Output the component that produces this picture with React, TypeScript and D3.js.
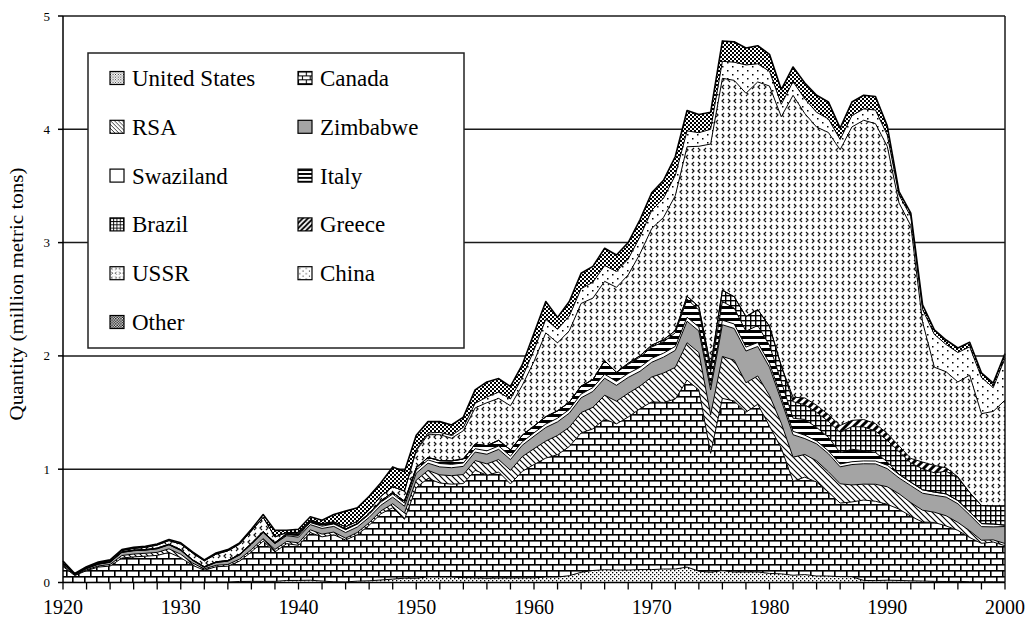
import React from 'react';
import * as d3 from 'd3';

const years: number[] = d3.range(1920, 2001);
const seriesNames = ['United States', 'Canada', 'RSA', 'Zimbabwe', 'Swaziland', 'Italy', 'Brazil', 'Greece', 'USSR', 'China', 'Other'];

const unitedStates = [
  .001, .001, 0, .001, 0, .001, .001, .002, .004, .003,
  .004, .002, .003, .004, .004, .009, .01, .01, .01, .018,
  .018, .02, .013, .006, .005, .012, .015, .022, .03, .038,
  .038, .049, .048, .048, .043, .041, .037, .04, .04, .041,
  .041, .048, .048, .06, .09, .106, .113, .11, .11, .114,
  .114, .119, .119, .136, .1, .09, .105, .092, .093, .093,
  .08, .076, .064, .07, .057, .057, .051, .051, .018, .017,
  .02, .018, .015, .013, .01, .009, .01, .007, .006, .007,
  .005];
const canada = [
  .14, .06, .105, .135, .145, .215, .225, .23, .235, .262,
  .215, .15, .105, .135, .14, .18, .26, .355, .26, .325,
  .31, .42, .39, .415, .37, .41, .49, .585, .63, .52,
  .8, .87, .83, .82, .83, .95, .91, .935, .83, .94,
  1.0, 1.05, 1.08, 1.14, 1.23, 1.25, 1.33, 1.29, 1.35, 1.42,
  1.48, 1.47, 1.5, 1.65, 1.6, 1.05, 1.52, 1.51, 1.41, 1.48,
  1.3, 1.11, .83, .86, .83, .74, .65, .66, .71, .7,
  .67, .63, .57, .52, .52, .49, .45, .39, .34, .35,
  .32];
const rsa = [
  .01, .005, .007, .01, .014, .022, .025, .026, .027, .032,
  .03, .02, .012, .013, .015, .018, .02, .022, .022, .02,
  .022, .025, .024, .024, .016, .02, .022, .025, .035, .055,
  .065, .07, .072, .075, .08, .085, .1, .11, .12, .13,
  .14, .15, .17, .17, .18, .19, .21, .2, .21, .2,
  .22, .26, .28, .33, .33, .34, .37, .36, .26, .25,
  .27, .22, .212, .2, .187, .18, .17, .15, .14, .15,
  .155, .135, .12, .105, .09, .09, .07, .06, .027, .019,
  .019];
const zimbabwe = [
  .015, .007, .012, .016, .02, .028, .03, .028, .032, .036,
  .035, .024, .015, .025, .03, .036, .048, .055, .052, .05,
  .05, .046, .05, .05, .05, .048, .048, .05, .058, .06,
  .062, .064, .07, .07, .072, .075, .085, .09, .095, .1,
  .11, .12, .12, .125, .13, .14, .15, .14, .14, .13,
  .13, .14, .15, .19, .19, .22, .28, .28, .28, .26,
  .25, .2, .198, .14, .15, .16, .15, .18, .18, .18,
  .16, .14, .15, .15, .15, .165, .165, .14, .12, .115,
  .15];
const swaziland = [
  0, 0, 0, 0, 0, 0, 0, 0, 0, 0,
  0, 0, 0, 0, 0, 0, 0, 0, 0, .008,
  .015, .018, .02, .022, .025, .025, .026, .027, .028, .028,
  .028, .029, .03, .03, .03, .03, .03, .03, .03, .03,
  .03, .03, .032, .032, .033, .034, .035, .035, .035, .035,
  .035, .035, .035, .035, .035, .04, .04, .04, .035, .035,
  .035, .03, .03, .03, .025, .025, .025, .025, .025, .025,
  .03, .03, .03, .03, .028, .028, .028, .027, .027, .025,
  .012];
const italy = [
  .003, .002, .003, .003, .003, .004, .004, .004, .005, .005,
  .005, .004, .004, .005, .005, .006, .007, .008, .008, .01,
  .012, .014, .012, .008, .006, .005, .01, .012, .014, .016,
  .02, .022, .025, .03, .035, .04, .045, .05, .055, .058,
  .06, .065, .065, .065, .07, .07, .12, .08, .08, .09,
  .1, .1, .12, .16, .15, .12, .165, .14, .14, .15,
  .157, .137, .116, .139, .12, .12, .1, .11, .09, .075,
  .03, .003, 0, 0, 0, 0, 0, 0, 0, 0,
  0];
const brazil = [
  0, 0, 0, 0, 0, 0, 0, 0, 0, 0,
  0, 0, 0, 0, 0, 0, 0, 0, 0, 0,
  0, 0, 0, 0, 0, 0, 0, 0, 0, 0,
  0, 0, 0, 0, 0, 0, 0, 0, 0, 0,
  0, 0, 0, 0, 0, 0, 0, 0, .01, .012,
  .016, .018, .02, .025, .03, .05, .1, .1, .13, .14,
  .17, .138, .146, .13, .134, .14, .18, .2, .21, .19,
  .19, .2, .17, .185, .17, .2, .2, .17, .16, .16,
  .17];
const greece = [
  0, 0, 0, 0, 0, 0, 0, 0, 0, 0,
  0, 0, 0, 0, 0, 0, 0, 0, 0, 0,
  0, 0, 0, 0, 0, 0, 0, 0, 0, 0,
  0, 0, 0, 0, 0, 0, 0, 0, 0, 0,
  0, 0, 0, 0, 0, 0, 0, 0, 0, 0,
  0, 0, 0, 0, 0, 0, 0, 0, 0, 0,
  0, 0, .039, .06, .061, .06, .06, .055, .065, .065,
  .06, .05, .04, .06, .065, .03, .01, 0, 0, 0,
  0];
const ussr = [
  .005, .002, .005, .007, .01, .012, .016, .02, .027, .032,
  .05, .06, .052, .068, .085, .09, .11, .125, .05, .01,
  .015, .01, .01, .01, .02, .02, .03, .04, .05, .09,
  .15, .2, .23, .2, .25, .32, .38, .37, .39, .44,
  .57, .74, .6, .63, .73, .72, .7, .75, .78, .9,
  1.03, 1.08, 1.19, 1.32, 1.415, 1.96, 1.87, 1.91, 1.97, 2.01,
  2.12, 2.2, 2.665, 2.51, 2.456, 2.49, 2.434, 2.59, 2.642, 2.648,
  2.535, 2.144, 2.055, 1.237, .867, .848, .837, 1.036, .81, .834,
  .934];
const china = [
  0, 0, 0, 0, 0, 0, 0, 0, 0, 0,
  0, 0, 0, 0, 0, 0, 0, 0, 0, 0,
  0, 0, 0, 0, 0, 0, 0, 0, 0, 0,
  .01, .015, .02, .025, .03, .04, .05, .055, .06, .07,
  .1, .12, .12, .13, .13, .14, .14, .14, .14, .15,
  .16, .17, .18, .14, .12, .13, .15, .16, .25, .16,
  .13, .11, .12, .13, .13, .12, .09, .1, .1, .12,
  .1, .07, .08, .11, .29, .24, .26, .25, .32, .21,
  .37];
const other = [
  .016, .003, .008, .008, .008, .008, .009, .01, .01, .01,
  .011, .01, .009, .01, .011, .011, .015, .025, .058, .02,
  .028, .027, .031, .065, .138, .12, .119, .119, .175, .173,
  .127, .101, .095, .092, .09, .119, .133, .12, .11, .111,
  .149, .157, .105, .128, .137, .14, .152, .145, .145, .15,
  .155, .158, .166, .18, .16, .15, .18, .18, .15, .16,
  .15, .13, .13, .14, .15, .15, .1, .12, .12, .12,
  .08, .03, .03, .04, .04, .04, .04, .04, .04, .04,
  .04];

const seriesValues = [unitedStates, canada, rsa, zimbabwe, swaziland, italy, brazil, greece, ussr, china, other];
const patternIds = ['pUS', 'pCA', 'pRSA', 'pZIM', 'pSWZ', 'pITA', 'pBRA', 'pGRE', 'pUSSR', 'pCHN', 'pOTH'];

const yTicks = [0, 1, 2, 3, 4, 5];
const xLabels = [1920, 1930, 1940, 1950, 1960, 1970, 1980, 1990, 2000];
const xTickYears = d3.range(1920, 2001, 2);

const FONT = "'Liberation Serif', 'Times New Roman', 'DejaVu Serif', serif";
const tStyle: React.CSSProperties = { fontFamily: FONT };

function Patterns() {
  return (
    <defs>
      <pattern id="pUS" width={4} height={4} patternUnits="userSpaceOnUse">
        <rect width={4} height={4} fill="#fff" />
        <rect x={0} y={0} width={1.3} height={1.3} fill="#000" />
        <rect x={2} y={2} width={1.3} height={1.3} fill="#000" />
      </pattern>
      <pattern id="pCA" width={12} height={12} patternUnits="userSpaceOnUse">
        <rect width={12} height={12} fill="#fff" />
        <rect x={0} y={0} width={12} height={1.6} fill="#000" />
        <rect x={0} y={6} width={12} height={1.6} fill="#000" />
        <rect x={0} y={0} width={1.6} height={6} fill="#000" />
        <rect x={6} y={6} width={1.6} height={6} fill="#000" />
      </pattern>
      <pattern id="pRSA" width={6} height={6} patternUnits="userSpaceOnUse">
        <rect width={6} height={6} fill="#fff" />
        <path d="M-1,-1 L7,7 M-1,5 L1,7 M5,-1 L7,1" stroke="#000" strokeWidth={1.2} />
      </pattern>
      <pattern id="pZIM" width={4} height={4} patternUnits="userSpaceOnUse">
        <rect width={4} height={4} fill="#a4a4a4" />
      </pattern>
      <pattern id="pSWZ" width={4} height={4} patternUnits="userSpaceOnUse">
        <rect width={4} height={4} fill="#fff" />
      </pattern>
      <pattern id="pITA" width={6} height={6} patternUnits="userSpaceOnUse">
        <rect width={6} height={6} fill="#fff" />
        <rect x={0} y={0} width={6} height={3} fill="#000" />
      </pattern>
      <pattern id="pBRA" width={5} height={5} patternUnits="userSpaceOnUse">
        <rect width={5} height={5} fill="#fff" />
        <rect x={0} y={0} width={5} height={1.4} fill="#000" />
        <rect x={0} y={0} width={1.4} height={5} fill="#000" />
      </pattern>
      <pattern id="pGRE" width={8} height={8} patternUnits="userSpaceOnUse">
        <rect width={8} height={8} fill="#fff" />
        <path d="M-2,10 L10,-2 M-2,2 L2,-2 M6,10 L10,6" stroke="#000" strokeWidth={3} />
      </pattern>
      <pattern id="pUSSR" width={12} height={14} patternUnits="userSpaceOnUse">
        <rect width={12} height={14} fill="#fff" />
        <path d="M4,1 L2,3 L4,5 M8,1 L10,3 L8,5 M2,8 L4,10 L2,12 M10,8 L8,10 L10,12" stroke="#111" strokeWidth={1.2} fill="none" />
      </pattern>
      <pattern id="pCHN" width={10} height={8} patternUnits="userSpaceOnUse">
        <rect width={10} height={8} fill="#fff" />
        <rect x={2} y={2} width={1.5} height={1.5} fill="#000" />
        <rect x={7} y={6} width={1.5} height={1.5} fill="#000" />
      </pattern>
      <pattern id="pOTH" width={4} height={4} patternUnits="userSpaceOnUse">
        <rect width={4} height={4} fill="#fff" />
        <rect x={0} y={0} width={2} height={2} fill="#000" />
        <rect x={2} y={2} width={2} height={2} fill="#000" />
      </pattern>
    </defs>
  );
}

export default function App() {
  const W = 1029, H = 627;
  const x = d3.scaleLinear().domain([1920, 2000]).range([63, 1005]);
  const y = d3.scaleLinear().domain([0, 5]).range([582.5, 16]);

  const table = years.map((yr, i) => {
    const row: any = { year: yr };
    seriesNames.forEach((name, j) => { row[name] = seriesValues[j][i]; });
    return row;
  });
  const stacked = d3.stack<any>().keys(seriesNames)(table);
  const area = d3.area<any>().x((d: any) => x(d.data.year)).y0((d: any) => y(d[0])).y1((d: any) => y(d[1]));
  const topLine = d3.line<any>().x((d: any) => x(d.data.year)).y((d: any) => y(d[1]));

  const legendCols = [110, 298];
  const legendRow0 = 78;
  const legendRowStep = 48.8;
  const sw = 0.65; // legend swatch pattern scale

  return (
    <svg width={W} height={H} style={{ position: 'absolute', left: 0, top: 0, background: '#fff', fontFamily: FONT }}>
      <Patterns />
      <rect width={W} height={H} fill="#fff" />
      {yTicks.filter(t => t > 0).map(t => (
        <line key={'g' + t} x1={x(1920)} x2={x(2000)} y1={y(t)} y2={y(t)} stroke="#1a1a1a" strokeWidth={1.5} />
      ))}
      {stacked.map((s, i) => (
        <path key={'a' + i} d={area(s as any) || ''} fill={`url(#${patternIds[i]})`} stroke="none" />
      ))}
      {stacked.map((s, i) => (
        <path key={'l' + i} d={topLine(s as any) || ''} fill="none" stroke="#000" strokeWidth={i === stacked.length - 1 ? 1.6 : 1} strokeLinejoin="round" />
      ))}
      <line x1={x(2000)} x2={x(2000)} y1={y(5)} y2={y(0)} stroke="#1a1a1a" strokeWidth={1.5} />
      <line x1={x(1920)} x2={x(1920)} y1={y(5)} y2={y(0)} stroke="#000" strokeWidth={1.5} />
      <line x1={x(1920)} x2={x(2000)} y1={y(0)} y2={y(0)} stroke="#000" strokeWidth={1.5} />
      {yTicks.map(t => (
        <g key={'yt' + t}>
          <line x1={x(1920) - 5} x2={x(1920)} y1={y(t)} y2={y(t)} stroke="#000" strokeWidth={1.5} />
          <text x={50} y={y(t) + 4.5} textAnchor="end" fontSize={13} fill="#000" style={tStyle}>{t}</text>
        </g>
      ))}
      {xTickYears.map(yr => (
        <line key={'xt' + yr} x1={x(yr)} x2={x(yr)} y1={y(0)} y2={y(0) + 7} stroke="#000" strokeWidth={1.3} />
      ))}
      {xLabels.map(yr => (
        <text key={'xl' + yr} x={x(yr)} y={614} textAnchor="middle" fontSize={20} fill="#000" style={tStyle}>{yr}</text>
      ))}
      <text transform="translate(23,294) rotate(-90)" textAnchor="middle" fontSize={19} textLength={253} lengthAdjust="spacingAndGlyphs" fill="#000" style={tStyle}>Quantity (million metric tons)</text>
      <rect x={88} y={53} width={376} height={295} fill="#fff" stroke="#222" strokeWidth={1.5} />
      {seriesNames.map((name, i) => {
        const col = i % 2;
        const row = Math.floor(i / 2);
        const cy = legendRow0 + row * legendRowStep;
        const sx = legendCols[col];
        return (
          <g key={'lg' + i}>
            <g transform={`translate(${sx},${cy - 6.5}) scale(${sw})`}>
              <rect x={0} y={0} width={14 / sw} height={13 / sw} fill={`url(#${patternIds[i]})`} stroke="#000" strokeWidth={1.2 / sw} />
            </g>
            <text x={sx + 22} y={cy + 8} fontSize={23} fill="#000" style={tStyle}>{name}</text>
          </g>
        );
      })}
    </svg>
  );
}
